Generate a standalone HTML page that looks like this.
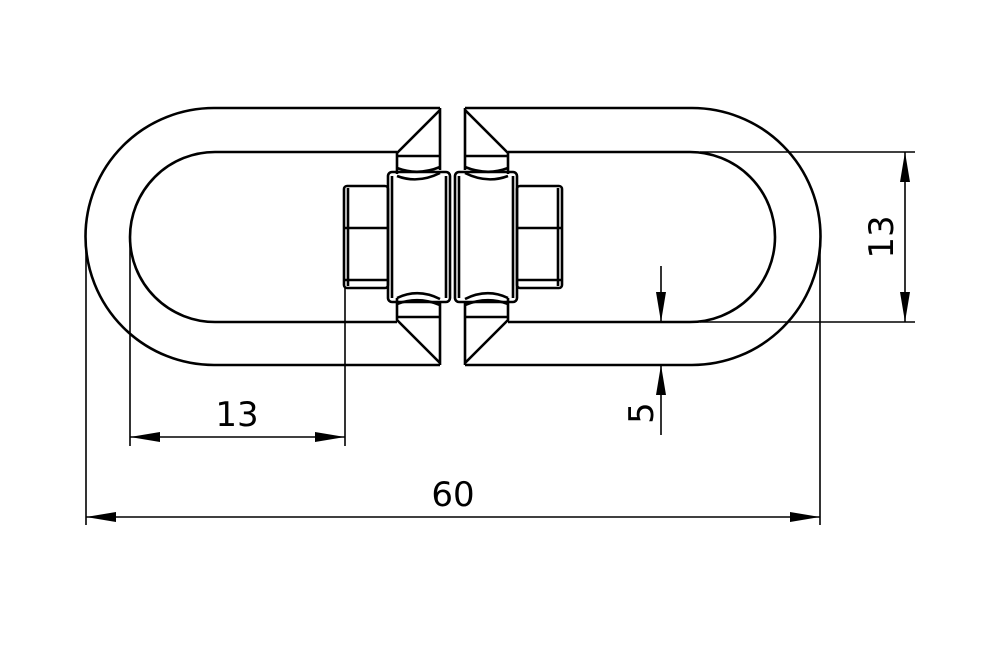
<!DOCTYPE html>
<html><head><meta charset="utf-8"><style>
html,body{margin:0;padding:0;background:#fff;}
svg{display:block;}
text{font-family:"DejaVu Sans","Liberation Sans",sans-serif;fill:#000;}
</style></head><body>
<svg width="1000" height="650" viewBox="0 0 1000 650" xmlns="http://www.w3.org/2000/svg">
<defs>
<marker id="a" viewBox="0 0 30 10" refX="30" refY="5" markerWidth="30" markerHeight="10" markerUnits="userSpaceOnUse" orient="auto-start-reverse">
<path d="M0,0 L30,5 L0,10 z" fill="#000"/></marker>
</defs>
<g fill="none" stroke="#000" stroke-width="2.6" stroke-linejoin="round">
<path d="M440,108 L214,108 A128,128 0 0 0 214,365 L440,365"/>
<path d="M397,152 L215,152 A85,85 0 0 0 215,322 L397,322"/>
<path d="M465,108 L692,108 A128,128 0 0 1 692,365 L465,365"/>
<path d="M508,152 L690,152 A85,85 0 0 1 690,322 L508,322"/>
<!-- left top chamfer -->
<path d="M440,108 L440,170 M440,110 L397,153 L397,174"/>
<path d="M397,156 L440,156"/>
<path d="M397,168 Q418,176 440,167"/>
<path d="M397,176 Q418,184 440,173"/>
<!-- right top chamfer -->
<path d="M465,108 L465,170 M465,110 L508,153 L508,174"/>
<path d="M465,156 L508,156"/>
<path d="M465,167 Q487,176 508,168"/>
<path d="M465,173 Q487,184 508,176"/>
<!-- bottom chamfers -->
<path d="M440,365 L440,302 M440,363 L397,320 L397,298"/>
<path d="M397,317 L440,317"/>
<path d="M397,304 Q418,296 440,305"/>
<path d="M397,298 Q418,288 440,299"/>
<path d="M465,365 L465,302 M465,363 L508,320 L508,298"/>
<path d="M465,317 L508,317"/>
<path d="M465,305 Q487,296 508,304"/>
<path d="M465,299 Q487,288 508,298"/>
<!-- barrels -->
<rect x="388" y="172" width="62" height="130" rx="4"/>
<rect x="455" y="172" width="62" height="130" rx="4"/>
<line x1="392" y1="176" x2="392" y2="298"/>
<line x1="446" y1="176" x2="446" y2="298"/>
<line x1="459" y1="176" x2="459" y2="298"/>
<line x1="513" y1="176" x2="513" y2="298"/>
<!-- nuts -->
<rect x="344" y="186" width="44" height="102" rx="3"/>
<line x1="348" y1="188" x2="348" y2="286"/>
<line x1="344" y1="228" x2="388" y2="228"/>
<line x1="344" y1="280" x2="388" y2="280"/>
<rect x="517" y="186" width="45" height="102" rx="3"/>
<line x1="558" y1="188" x2="558" y2="286"/>
<line x1="517" y1="228" x2="562" y2="228"/>
<line x1="517" y1="280" x2="562" y2="280"/>
</g>
<g fill="none" stroke="#000" stroke-width="1.6">
<line x1="86" y1="250" x2="86" y2="525"/>
<line x1="820" y1="250" x2="820" y2="525"/>
<line x1="130" y1="236" x2="130" y2="446"/>
<line x1="345" y1="288" x2="345" y2="446"/>
<line x1="700" y1="152" x2="915" y2="152"/>
<line x1="700" y1="322" x2="915" y2="322"/>
<line x1="86" y1="517" x2="820" y2="517" marker-start="url(#a)" marker-end="url(#a)"/>
<line x1="130" y1="437" x2="345" y2="437" marker-start="url(#a)" marker-end="url(#a)"/>
<line x1="905" y1="152" x2="905" y2="322" marker-start="url(#a)" marker-end="url(#a)"/>
<line x1="661" y1="266" x2="661" y2="322" marker-end="url(#a)"/>
<line x1="661" y1="435" x2="661" y2="365" marker-end="url(#a)"/>
</g>
<text x="237" y="426" font-size="34" text-anchor="middle">13</text>
<text x="453" y="506" font-size="34" text-anchor="middle">60</text>
<text transform="translate(893,237) rotate(-90)" font-size="34" text-anchor="middle">13</text>
<text transform="translate(653,413) rotate(-90)" font-size="34" text-anchor="middle">5</text>
</svg>
</body></html>
